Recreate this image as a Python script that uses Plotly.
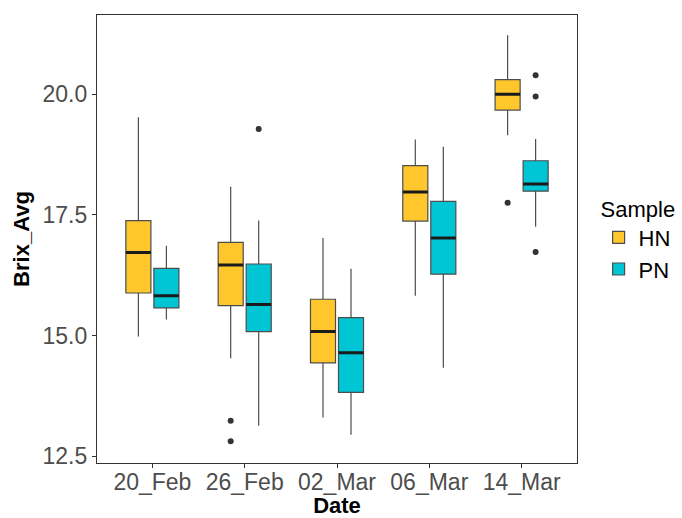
import plotly.graph_objects as go

dates = ["20_Feb", "26_Feb", "02_Mar", "06_Mar", "14_Mar"]

# HN summary stats
hn_low = [14.98, 14.53, 13.30, 15.82, 19.15]
hn_q1 = [15.88, 15.62, 14.43, 17.37, 19.67]
hn_med = [16.72, 16.46, 15.08, 17.97, 20.00]
hn_q3 = [17.38, 16.93, 15.75, 18.52, 20.30]
hn_high = [19.52, 18.08, 17.02, 19.06, 21.22]
hn_out = [[], [13.23, 12.81], [], [], [17.75]]

# PN summary stats
pn_low = [15.33, 13.13, 12.94, 14.33, 17.25]
pn_q1 = [15.57, 15.08, 13.82, 16.27, 17.99]
pn_med = [15.82, 15.64, 14.64, 17.02, 18.14]
pn_q3 = [16.39, 16.48, 15.37, 17.78, 18.62]
pn_high = [16.86, 17.38, 16.38, 18.91, 19.07]
pn_out = [[], [19.28], [], [], [20.39, 19.95, 16.73]]

groups = [
    ("HN", "#FFC72C", hn_low, hn_q1, hn_med, hn_q3, hn_high, hn_out),
    ("PN", "#00C5D5", pn_low, pn_q1, pn_med, pn_q3, pn_high, pn_out),
]

fig = go.Figure()
for name, color, lo, q1, med, q3, hi, out in groups:
    fig.add_trace(go.Box(
        name=name, x=dates,
        q1=q1, median=med, q3=q3, lowerfence=lo, upperfence=hi,
        fillcolor=color, line=dict(color="#4D4D4D", width=1.2),
        whiskerwidth=0, boxpoints=False,
        offsetgroup=name, alignmentgroup="a", legendgroup=name,
    ))
for name, color, lo, q1, med, q3, hi, out in groups:
    fig.add_trace(go.Box(
        name=name, x=dates,
        q1=med, median=med, q3=med, lowerfence=med, upperfence=med,
        fillcolor="rgba(0,0,0,0)", line=dict(color="#1A1A1A", width=3),
        whiskerwidth=0, boxpoints=False,
        offsetgroup=name, alignmentgroup="a", legendgroup=name,
        showlegend=False, hoverinfo="skip",
    ))
for name, color, lo, q1, med, q3, hi, out in groups:
    ox = [d for d, vals in zip(dates, out) for _ in vals]
    oy = [v for vals in out for v in vals]
    fig.add_trace(go.Scatter(
        name=name, x=ox, y=oy, mode="markers",
        marker=dict(color="#333333", size=6, line=dict(width=0)),
        offsetgroup=name, alignmentgroup="a", legendgroup=name,
        showlegend=False,
    ))

font_family = "Liberation Sans, Arial, sans-serif"
fig.update_layout(
    width=682, height=518,
    margin=dict(l=97, r=105, t=15, b=55, autoexpand=False),
    paper_bgcolor="white", plot_bgcolor="white",
    boxmode="group", boxgap=0.393, boxgroupgap=0.106,
    scattermode="group", scattergap=0.393,
    font=dict(family=font_family, size=23, color="#4D4D4D"),
    legend=dict(
        title=dict(text="Sample", font=dict(size=22, color="black")),
        font=dict(size=22, color="black"),
        x=1.045, xanchor="left", y=0.5, yanchor="middle",
        bgcolor="rgba(0,0,0,0)", tracegroupgap=0,
    ),
    xaxis=dict(
        type="category", categoryorder="array", categoryarray=dates,
        range=[-0.6, 4.6],
        showgrid=False, zeroline=False,
        showline=True, mirror=True, linecolor="#333333", linewidth=1.2,
        ticks="outside", ticklen=4, tickcolor="#333333", tickwidth=1.2,
        tickfont=dict(size=23, color="#4D4D4D"),
        ticklabelstandoff=-6,
        title=dict(text="<b>Date</b>", font=dict(size=22, color="black"), standoff=14),
        automargin=False,
    ),
    yaxis=dict(
        range=[12.357, 21.64],
        tickvals=[12.5, 15.0, 17.5, 20.0], tickformat=".1f",
        showgrid=False, zeroline=False,
        showline=True, mirror=True, linecolor="#333333", linewidth=1.2,
        ticks="outside", ticklen=4, tickcolor="#333333", tickwidth=1.2,
        tickfont=dict(size=23, color="#4D4D4D"),
        title=dict(text="<b>Brix_Avg</b>", font=dict(size=22, color="black"), standoff=6),
        automargin=False,
    ),
)

fig.write_html("out.html", config={"displayModeBar": False},
               post_script="document.body.style.margin='0';")
